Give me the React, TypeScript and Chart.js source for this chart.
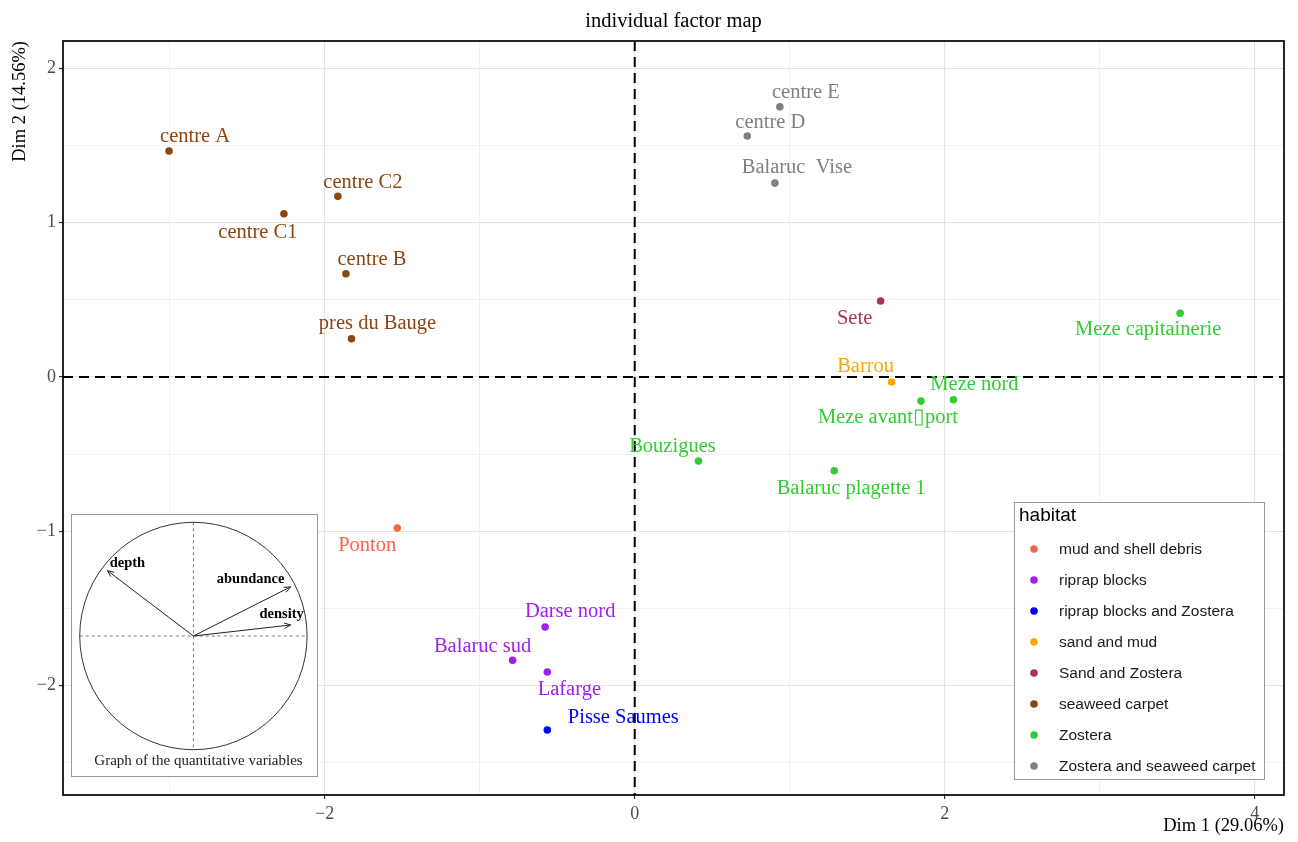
import React, { useEffect, useRef } from "react";
import { Chart, registerables } from "chart.js";

Chart.register(...registerables);

const SERIF = '"Liberation Serif", "Times New Roman", serif';
const SANS = '"Liberation Sans", Arial, sans-serif';

// ---------- data ----------
const habitats = [
  "mud and shell debris",
  "riprap blocks",
  "riprap blocks and Zostera",
  "sand and mud",
  "Sand and Zostera",
  "seaweed carpet",
  "Zostera",
  "Zostera and seaweed carpet",
];
const habitatColors = [
  "#FF6347",
  "#A020F0",
  "#0000FF",
  "#FFA500",
  "#B03060",
  "#8B4513",
  "#32CD32",
  "#808080",
];

const siteNames = [
  "centre A",
  "centre C1",
  "centre C2",
  "centre B",
  "pres du Bauge",
  "centre E",
  "centre D",
  "Balaruc  Vise",
  "Sete",
  "Meze capitainerie",
  "Barrou",
  "Meze avant\u25AFport",
  "Meze nord",
  "Bouzigues",
  "Balaruc plagette 1",
  "Ponton",
  "Darse nord",
  "Balaruc sud",
  "Lafarge",
  "Pisse Saumes",
];
const siteHabitat = [5, 5, 5, 5, 5, 7, 7, 7, 4, 6, 3, 6, 6, 6, 6, 0, 1, 1, 1, 2];
const dim1 = [
  -3.004, -2.263, -1.915, -1.863, -1.827, 0.936, 0.726, 0.904, 1.586, 3.518,
  1.657, 1.846, 2.056, 0.411, 1.287, -1.532, -0.578, -0.788, -0.564, -0.564,
];
const dim2 = [
  1.465, 1.058, 1.171, 0.669, 0.248, 1.752, 1.562, 1.257, 0.493, 0.413,
  -0.032, -0.156, -0.147, -0.544, -0.607, -0.979, -1.62, -1.836, -1.912, -2.288,
];
// label placement (pixels, relative to each point)
const labelDx = [26, -26, 25, 26, 26, 26, 23, 22, -26, -32, -26, -33, 21, -26, 17, -30, 25, -30, 22, 76];
const labelDy = [-14, 19, -14, -14, -15, -14, -13, -15, 18, 16, -15, 17, -15, -14, 18, 18, -15, -14, 18, -12];

const xLimits = [-3.688, 4.188];
const yLimits = [-2.709, 2.178];

const variableNames = ["depth", "abundance", "density"];
const variableDim1 = [-0.757, 0.855, 0.855];
const variableDim2 = [0.575, 0.432, 0.097];
const variableLabelDx = [20, -40, -9];
const variableLabelDy = [-7, -8, -11];
const insetXLimits = [-1.068, 1.087];
const insetYLimits = [-1.231, 1.064];

const chartTitle = "individual factor map";
const xTitle = "Dim 1 (29.06%)";
const yTitle = "Dim 2 (14.56%)";
const legendTitle = "habitat";
const insetCaption = "Graph of the quantitative variables";

const fmt = (v: number) => String(v).replace("-", "\u2212");

// ---------- plugins ----------
const panelPlugin = {
  id: "panelDecor",
  beforeDatasetsDraw(chart: any) {
    const { ctx, chartArea: ca, scales } = chart;
    const x0 = scales.x.getPixelForValue(0);
    const y0 = scales.y.getPixelForValue(0);
    ctx.save();
    ctx.strokeStyle = "#000";
    ctx.lineWidth = 2;
    ctx.setLineDash([10, 6]);
    ctx.beginPath();
    ctx.moveTo(x0, ca.top);
    ctx.lineTo(x0, ca.bottom);
    ctx.moveTo(ca.left, y0);
    ctx.lineTo(ca.right, y0);
    ctx.stroke();
    ctx.restore();
  },
  afterDatasetsDraw(chart: any) {
    const { ctx } = chart;
    ctx.save();
    ctx.font = `20.5px ${SERIF}`;
    ctx.textAlign = "center";
    ctx.textBaseline = "middle";
    chart.data.datasets.forEach((ds: any, di: number) => {
      const meta = chart.getDatasetMeta(di);
      meta.data.forEach((el: any, i: number) => {
        const idx = ds.data[i].idx;
        ctx.fillStyle = ds.backgroundColor;
        ctx.fillText(siteNames[idx], el.x + labelDx[idx], el.y + labelDy[idx]);
      });
    });
    ctx.restore();
  },
  afterDraw(chart: any) {
    const { ctx, chartArea: ca } = chart;
    ctx.save();
    // legend box
    const w = 250;
    const h = 277;
    const bx = ca.right - 20 - w;
    const by = ca.bottom - 16 - h;
    ctx.fillStyle = "#fff";
    ctx.fillRect(bx, by, w, h);
    ctx.strokeStyle = "#9a9a9a";
    ctx.lineWidth = 1;
    ctx.strokeRect(bx + 0.5, by + 0.5, w, h);
    ctx.fillStyle = "#000";
    ctx.textAlign = "left";
    ctx.textBaseline = "middle";
    ctx.font = `19px ${SANS}`;
    ctx.fillText(legendTitle, bx + 5, by + 14);
    ctx.font = `15.5px ${SANS}`;
    chart.data.datasets.forEach((ds: any, i: number) => {
      const yy = by + 47 + 31 * i;
      ctx.fillStyle = ds.backgroundColor;
      ctx.beginPath();
      ctx.arc(bx + 20, yy, 3.8, 0, Math.PI * 2);
      ctx.fill();
      ctx.fillStyle = "#1a1a1a";
      ctx.fillText(ds.label, bx + 45, yy + 1);
    });
    // panel border
    ctx.strokeStyle = "#000";
    ctx.lineWidth = 1.7;
    ctx.strokeRect(ca.left, ca.top, ca.right - ca.left, ca.bottom - ca.top);
    ctx.restore();
  },
};

const insetPlugin = {
  id: "insetDecor",
  beforeDatasetsDraw(chart: any) {
    const { ctx, scales } = chart;
    const { x, y } = scales;
    const cx = x.getPixelForValue(0);
    const cy = y.getPixelForValue(0);
    const r = x.getPixelForValue(1) - cx;
    ctx.save();
    ctx.strokeStyle = "#333";
    ctx.lineWidth = 1;
    ctx.beginPath();
    ctx.arc(cx, cy, r, 0, Math.PI * 2);
    ctx.stroke();
    ctx.strokeStyle = "#555";
    ctx.lineWidth = 0.8;
    ctx.setLineDash([3, 3]);
    ctx.beginPath();
    ctx.moveTo(x.getPixelForValue(-1), cy);
    ctx.lineTo(x.getPixelForValue(1), cy);
    ctx.moveTo(cx, y.getPixelForValue(1));
    ctx.lineTo(cx, y.getPixelForValue(-1));
    ctx.stroke();
    ctx.restore();
  },
  afterDatasetsDraw(chart: any) {
    const { ctx, chartArea: ca } = chart;
    ctx.save();
    ctx.strokeStyle = "#222";
    ctx.lineWidth = 1;
    ctx.fillStyle = "#000";
    ctx.font = `bold 14.5px ${SERIF}`;
    ctx.textAlign = "center";
    ctx.textBaseline = "middle";
    chart.data.datasets.forEach((ds: any, di: number) => {
      const meta = chart.getDatasetMeta(di);
      const o = meta.data[0];
      const t = meta.data[1];
      const a = Math.atan2(t.y - o.y, t.x - o.x);
      const len = 7;
      ctx.beginPath();
      ctx.moveTo(t.x - len * Math.cos(a - 0.4), t.y - len * Math.sin(a - 0.4));
      ctx.lineTo(t.x, t.y);
      ctx.lineTo(t.x - len * Math.cos(a + 0.4), t.y - len * Math.sin(a + 0.4));
      ctx.stroke();
      ctx.fillText(variableNames[di], t.x + variableLabelDx[di], t.y + variableLabelDy[di]);
    });
    ctx.font = `15px ${SERIF}`;
    ctx.fillStyle = "#222";
    ctx.fillText(insetCaption, (ca.left + ca.right) / 2 + 4, ca.bottom - 15);
    ctx.restore();
  },
};

export default function App() {
  const mainRef = useRef<HTMLCanvasElement | null>(null);
  const insetRef = useRef<HTMLCanvasElement | null>(null);

  useEffect(() => {
    if (!mainRef.current || !insetRef.current) return;

    const datasets = habitats.map((h, hi) => ({
      label: h,
      data: siteNames
        .map((_, i) => ({ x: dim1[i], y: dim2[i], idx: i }))
        .filter((p) => siteHabitat[p.idx] === hi),
      backgroundColor: habitatColors[hi],
      borderColor: habitatColors[hi],
      borderWidth: 0,
      pointRadius: 3.8,
      pointHoverRadius: 3.8,
    }));

    const main = new Chart(mainRef.current, {
      type: "scatter",
      data: { datasets },
      options: {
        animation: false,
        responsive: false,
        events: [],
        layout: { padding: { left: 0, right: 14, top: 0, bottom: 0 } },
        plugins: {
          legend: { display: false },
          tooltip: { enabled: false },
          title: {
            display: true,
            text: chartTitle,
            color: "#000",
            fullSize: false,
            font: { family: SERIF, size: 20.5, weight: "normal" },
            padding: { top: 9, bottom: 7.4 },
          },
        },
        scales: {
          x: {
            type: "linear",
            min: xLimits[0],
            max: xLimits[1],
            afterFit: (s: any) => {
              s.height = 47;
            },
            ticks: {
              stepSize: 1,
              includeBounds: false,
              autoSkip: false,
              maxRotation: 0,
              padding: 4,
              color: "#4d4d4d",
              font: { family: SERIF, size: 18 },
              callback: (v: any) => (Math.abs(v % 2) < 1e-9 ? fmt(v) : ""),
            },
            grid: {
              color: (c: any) => (Math.abs(c.tick.value % 2) < 1e-9 ? "#e3e3e3" : "#eeeeee"),
              lineWidth: (c: any) => (Math.abs(c.tick.value % 2) < 1e-9 ? 1.1 : 0.8),
              drawTicks: true,
              tickLength: 4,
              tickWidth: 1.2,
              tickColor: (c: any) => (Math.abs(c.tick.value % 2) < 1e-9 ? "#333" : "rgba(0,0,0,0)"),
            },
            border: { display: false },
            title: {
              display: true,
              text: xTitle,
              align: "end",
              color: "#000",
              font: { family: SERIF, size: 18.5 },
              padding: { top: 0, bottom: 5 },
            },
          },
          y: {
            type: "linear",
            min: yLimits[0],
            max: yLimits[1],
            afterFit: (s: any) => {
              s.width = 63;
            },
            ticks: {
              stepSize: 0.5,
              includeBounds: false,
              autoSkip: false,
              padding: 3,
              color: "#4d4d4d",
              font: { family: SERIF, size: 18 },
              callback: (v: any) => (Math.abs(v % 1) < 1e-9 ? fmt(v) : ""),
            },
            grid: {
              color: (c: any) => (Math.abs(c.tick.value % 1) < 1e-9 ? "#e3e3e3" : "#eeeeee"),
              lineWidth: (c: any) => (Math.abs(c.tick.value % 1) < 1e-9 ? 1.1 : 0.8),
              drawTicks: true,
              tickLength: 4,
              tickWidth: 1.2,
              tickColor: (c: any) => (Math.abs(c.tick.value % 1) < 1e-9 ? "#333" : "rgba(0,0,0,0)"),
            },
            border: { display: false },
            title: {
              display: true,
              text: yTitle,
              align: "end",
              color: "#000",
              font: { family: SERIF, size: 18.5 },
              padding: { top: 9, bottom: 0 },
            },
          },
        },
      } as any,
      plugins: [panelPlugin],
    });

    const inset = new Chart(insetRef.current, {
      type: "scatter",
      data: {
        datasets: variableNames.map((name, i) => ({
          label: name,
          data: [
            { x: 0, y: 0 },
            { x: variableDim1[i], y: variableDim2[i] },
          ],
          showLine: true,
          borderColor: "#222",
          borderWidth: 1,
          pointRadius: 0,
          pointHoverRadius: 0,
          fill: false,
        })),
      },
      options: {
        animation: false,
        responsive: false,
        events: [],
        layout: { padding: 0 },
        plugins: {
          legend: { display: false },
          tooltip: { enabled: false },
          title: { display: false },
        },
        scales: {
          x: { type: "linear", display: false, min: insetXLimits[0], max: insetXLimits[1] },
          y: { type: "linear", display: false, min: insetYLimits[0], max: insetYLimits[1] },
        },
      } as any,
      plugins: [insetPlugin],
    });

    return () => {
      main.destroy();
      inset.destroy();
    };
  }, []);

  return (
    <div
      style={{
        position: "fixed",
        left: 0,
        top: 0,
        width: 1298,
        height: 842,
        background: "#fff",
        overflow: "hidden",
      }}
    >
      <canvas
        ref={mainRef}
        width={1298}
        height={842}
        style={{ position: "absolute", left: 0, top: 0, width: 1298, height: 842, display: "block" }}
      />
      <div
        style={{
          position: "absolute",
          left: 71,
          top: 514,
          width: 247,
          height: 263,
          boxSizing: "border-box",
          border: "1px solid #9a9a9a",
          background: "#fff",
        }}
      >
        <canvas
          ref={insetRef}
          width={245}
          height={261}
          style={{ display: "block", width: 245, height: 261 }}
        />
      </div>
    </div>
  );
}
